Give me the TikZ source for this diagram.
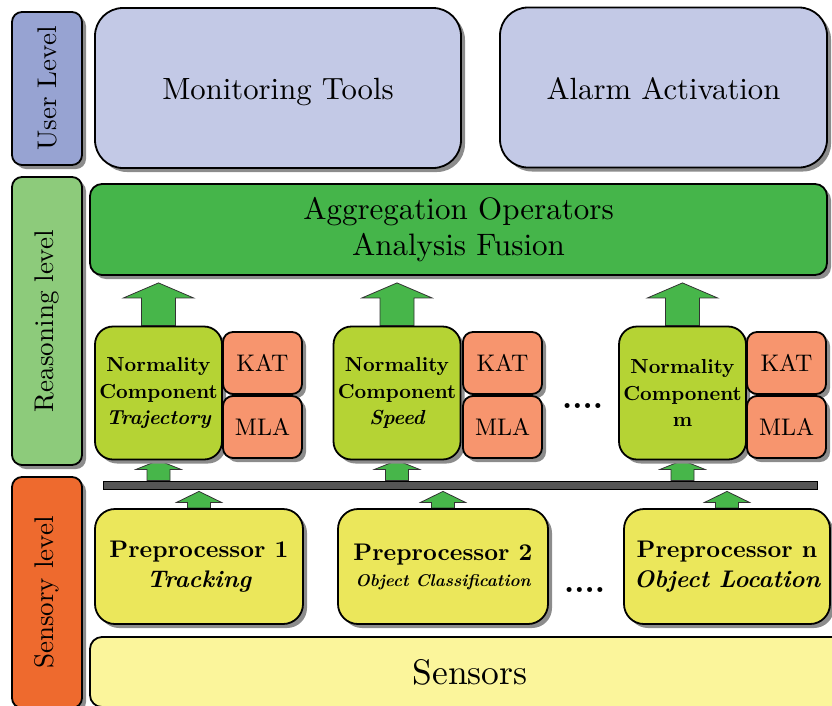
\documentclass[tikz,border=0pt]{standalone}
\usepackage{fontspec}
\setmainfont{lmroman10}[Extension=.otf, UprightFont=*-regular, BoldFont=*-bold,
  ItalicFont=*-italic, BoldItalicFont=*-bolditalic]
\usetikzlibrary{shadows,calc,backgrounds}

\definecolor{userc}{HTML}{97A3D2}
\definecolor{topc}{HTML}{C3C9E6}
\definecolor{reasonc}{HTML}{8DCB7B}
\definecolor{aggc}{HTML}{45B54A}
\definecolor{normc}{HTML}{B5D334}
\definecolor{katc}{HTML}{F7956E}
\definecolor{sensoryc}{HTML}{EE6A2E}
\definecolor{prec}{HTML}{EBE75B}
\definecolor{sensorsc}{HTML}{FBF59B}
\definecolor{arrowc}{HTML}{47B64A}
\definecolor{barc}{HTML}{555555}

\newcommand{\fsz}[2]{\fontsize{#1}{#2}\selectfont}

\begin{document}
\begin{tikzpicture}[x=1pt,y=-1pt,
  box/.style={draw=black, line width=1.8pt, rounded corners=#1, align=center,
    inner sep=0pt,
    drop shadow={shadow xshift=4pt, shadow yshift=-4pt, opacity=1, fill=black!45}},
  box/.default=12pt,
  sidebox/.style={box=10pt, minimum width=70pt},
  topbox/.style={box=28pt, fill=topc, minimum height=160pt, font=\fsz{30.7}{36},
    text height=25pt, text depth=2pt},
  katbox/.style={box=10pt, fill=katc, minimum width=79pt, minimum height=62pt,
    font=\fsz{24}{28}},
  normbox/.style={box=18pt, fill=normc, minimum width=127pt, minimum height=133pt,
    font=\fsz{20.3}{26.5}\bfseries},
  prebox/.style={box=20pt, fill=prec, minimum height=115pt,
    font=\fsz{24}{30}\bfseries},
  blockup/.style n args={4}{draw=black!80, line width=0.8pt, fill=arrowc,
    to path={let \p1=(\tikztostart), \p2=(\tikztotarget) in
      (\x1-#1,\y1) -- (\x1-#1,\y2-#4-#3) -- (\x1-#2,\y2-#4-#3) -- (\x1,\y2-#4)
      -- (\x1+#2,\y2-#4-#3) -- (\x1+#1,\y2-#4-#3) -- (\x1+#1,\y1) -- cycle}},
  bigup/.style={blockup={17pt}{35pt}{15pt}{7pt}},
  smallup/.style={blockup={11.5pt}{22.5pt}{#1}{2pt}},
  smallup/.default=11pt,
  dots/.style={anchor=base west, inner sep=0pt, font=\fsz{32}{32}\bfseries}
]
\useasboundingbox (0,0) rectangle (832,705);
\clip (0,0) rectangle (832,705);

% level labels on the left
\node[sidebox, fill=userc, minimum height=153pt] (user) at (47,88.5)
  {\fsz{27}{32}\rotatebox{90}{User Level}};
\node[sidebox, fill=reasonc, minimum height=288pt] (reason) at (47,321)
  {\fsz{27}{32}\rotatebox{90}{Reasoning level}};
\node[sidebox, fill=sensoryc, minimum height=231pt] (sensory) at (47,592.5)
  {\fsz{27}{32}\rotatebox{90}{Sensory level}};

% user level
\node[topbox, minimum width=366pt] (mon) at (278,88) {Monitoring Tools};
\node[topbox, minimum width=327pt] (alarm) at (663.5,87.5) {Alarm Activation};

% reasoning level
\node[box=12pt, fill=aggc, minimum width=737pt, minimum height=91pt,
  font=\fsz{31}{36}] (agg) at (458.5,229.5)
  {Aggregation Operators\\Analysis Fusion};

\node[normbox] (nc1) at (158.5,393) {Normality\\Component\\\itshape Trajectory};
\node[katbox] (kat1) at (262.5,363) {KAT};
\node[katbox] (mla1) at (262.5,427) {MLA};

\node[normbox] (nc2) at (397,393) {Normality\\Component\\\itshape Speed};
\node[katbox] (kat2) at (502.5,363) {KAT};
\node[katbox] (mla2) at (502.5,427) {MLA};

\node[normbox] (nc3) at (682.5,393) {Normality\\Component\\m};
\node[katbox] (kat3) at (786.5,363) {KAT};
\node[katbox] (mla3) at (786.5,427) {MLA};

\node[dots] (dotsr) at (562,408) {....};

% shared bus
\node[draw=black, line width=0.8pt, fill=barc, inner sep=0pt,
  minimum width=714pt, minimum height=8pt] (bar) at (460,485) {};

% sensory level
\node[prebox, minimum width=208pt] (p1) at (199,566.5)
  {Preprocessor 1\\\itshape Tracking};
\node[prebox, minimum width=210pt] (p2) at (443,566.5)
  {Preprocessor 2\\[-4pt]{\fsz{17}{20}\itshape Object Classification}};
\node[prebox, minimum width=206pt] (pn) at (727,566.5)
  {Preprocessor n\\\itshape Object Location};

\node[dots] (dotss) at (564,592) {....};

\node[box=12pt, fill=sensorsc, minimum width=760pt, minimum height=70pt,
  font=\fsz{35.5}{40}] (sensors) at (470,672) {Sensors};

% block arrows between the layers
\begin{scope}[on background layer]
  \foreach \cmp in {nc1,nc2,nc3}{
    \draw[bigup] (\cmp.north) to (agg.south -| \cmp.north);
    \draw[smallup=9pt] (bar.north -| \cmp.south) to ([yshift=2pt]\cmp.south);
  }
  \foreach \pre in {p1,p2,pn}{
    \draw[smallup] (\pre.north) to (bar.south -| \pre.north);
  }
\end{scope}
\end{tikzpicture}
\end{document}
